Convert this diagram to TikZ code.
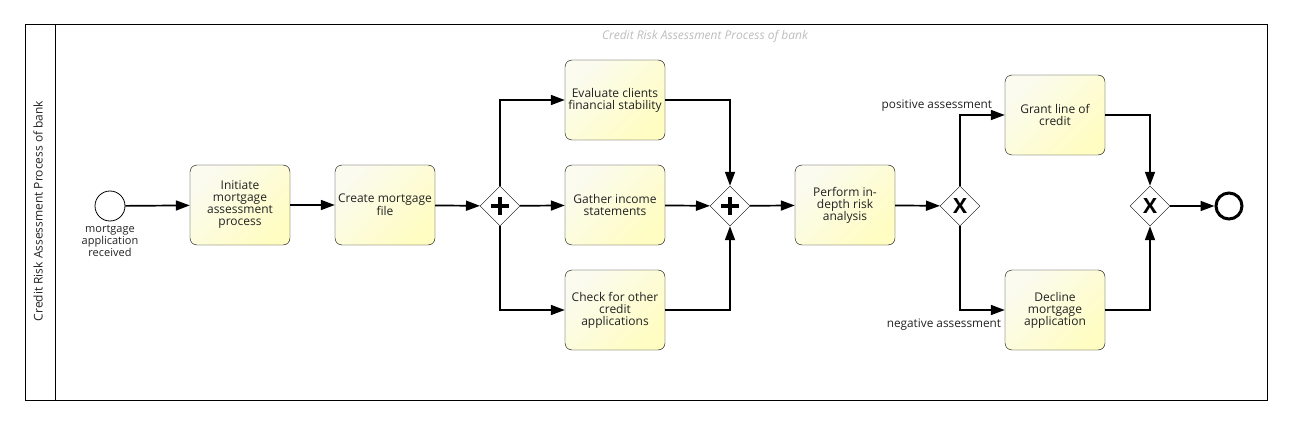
\documentclass[tikz,border=0pt]{standalone}
\usepackage{fontspec}
\setmainfont{Open Sans}
\usetikzlibrary{arrows.meta,shapes.geometric}

\definecolor{taskhi}{HTML}{FBFBF0}
\definecolor{tasklo}{HTML}{FFFDC2}
\definecolor{titlegray}{HTML}{BDBDBD}
\definecolor{ink}{HTML}{222222}

\tikzset{
  task/.style={draw, rounded corners=7pt, minimum width=100pt, minimum height=80pt,
    align=center, inner sep=2pt, top color=taskhi, bottom color=tasklo, shading angle=45,
    text=ink, font=\fontsize{12}{12}\selectfont},
  gate/.style={draw, diamond, minimum width=40pt, minimum height=40pt, inner sep=0pt, fill=white},
  andgate/.style={gate, path picture={
    \draw[line width=3.4pt] ([xshift=-9pt]path picture bounding box.center) -- ([xshift=9pt]path picture bounding box.center);
    \draw[line width=3.4pt] ([yshift=-9pt]path picture bounding box.center) -- ([yshift=9pt]path picture bounding box.center);}},
  xorgate/.style={gate, font=\fontsize{21}{21}\selectfont\bfseries},
  flow/.style={line width=1.7pt, -{Triangle[length=14pt,width=10pt]}},
  flowlabel/.style={inner sep=1pt, text=ink, font=\fontsize{11.8}{12}\selectfont}
}

\begin{document}
\begin{tikzpicture}[x=1pt,y=-1pt]
\useasboundingbox (0,0) rectangle (1291,425);
  % Draw pool and lane header
  \draw[line width=1pt] (25,25) rectangle (1267,400);
  \draw[line width=1pt] (55,25) -- (55,400);
  \node[rotate=90, text=ink, font=\fontsize{12}{12}\selectfont] (lane) at (38,211) {Credit Risk Assessment Process of bank};
  \node[text=titlegray, font=\fontsize{12}{12}\selectfont\itshape] (title) at (705,36) {Credit Risk Assessment Process of bank};
  % Draw events
  \node[draw, circle, line width=0.8pt, minimum size=30pt, inner sep=0pt, fill=white] (start) at (110,206) {};
  \node[align=center, text=ink, font=\fontsize{11}{12}\selectfont, below=0pt] (startlbl) at (start.south) {mortgage\\application\\received};
  \node[draw, circle, line width=3pt, minimum size=26pt, inner sep=0pt, fill=white] (finish) at (1229,206) {};
  % Draw tasks
  \node[task] (init) at (240,205) {Initiate\\mortgage\\assessment\\process};
  \node[task] (create) at (385,205) {Create mortgage\\file};
  \node[task] (eval) at (615,100) {Evaluate clients\\financial stability};
  \node[task] (gather) at (615,205) {Gather income\\statements};
  \node[task] (check) at (615,310) {Check for other\\credit\\applications};
  \node[task] (perform) at (845,205) {Perform in-\\depth risk\\analysis};
  \node[task] (grant) at (1055,115) {Grant line of\\credit};
  \node[task] (decline) at (1055,310) {Decline\\mortgage\\application};
  % Draw gateways
  \node[andgate] (split) at (500,206) {};
  \node[andgate] (join) at (730,206) {};
  \node[xorgate] (decide) at (960,206) {X};
  \node[xorgate] (merge) at (1150,206) {X};
  % Draw sequence flows
  \draw[flow] (start) -- (init);
  \draw[flow] (init) -- (create);
  \draw[flow] (create) -- (split);
  \draw[flow] (split.north) |- (eval);
  \draw[flow] (split) -- (gather);
  \draw[flow] (split.south) |- (check);
  \draw[flow] (eval) -| (join.north);
  \draw[flow] (gather) -- (join);
  \draw[flow] (check) -| (join.south);
  \draw[flow] (join) -- (perform);
  \draw[flow] (perform) -- (decide);
  \draw[flow] (decide.north) |- node[flowlabel, pos=0.5, anchor=south east, xshift=34pt, yshift=2pt] {positive assessment} (grant);
  \draw[flow] (decide.south) |- node[flowlabel, pos=0.5, anchor=north east, xshift=43pt, yshift=-7pt] {negative assessment} (decline);
  \draw[flow] (grant) -| (merge.north);
  \draw[flow] (decline) -| (merge.south);
  \draw[flow] (merge) -- (finish);
\end{tikzpicture}
\end{document}
